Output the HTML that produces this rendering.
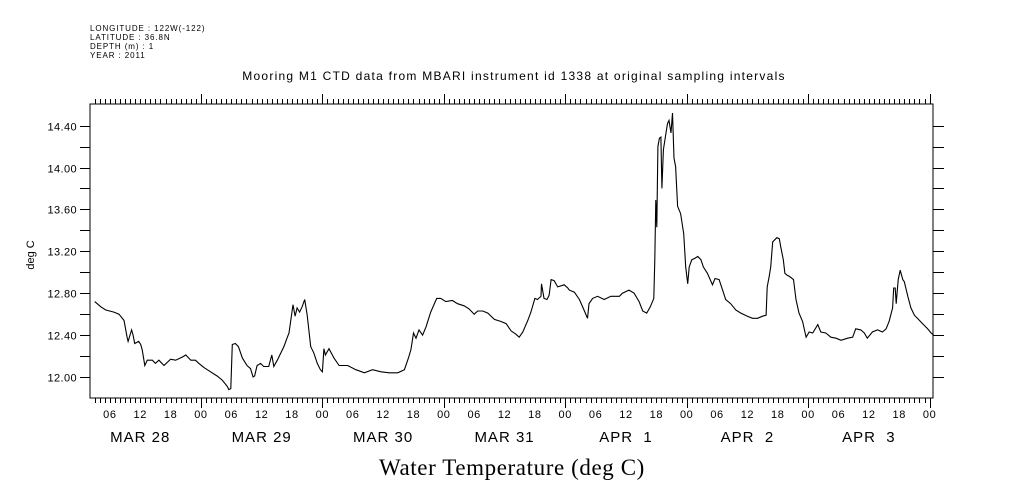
<!DOCTYPE html>
<html><head><meta charset="utf-8"><style>
body{margin:0;background:#fff;width:1009px;height:504px;overflow:hidden}
svg{display:block}
text{font-family:"Liberation Sans",sans-serif;fill:#000}
</style></head><body>
<svg id="chart" width="1009" height="504" viewBox="0 0 1009 504">
<g font-size="8" letter-spacing="0.9">
<text x="90" y="31">LONGITUDE : 122W(-122)</text>
<text x="90" y="40">LATITUDE : 36.8N</text>
<text x="90" y="49">DEPTH (m) : 1</text>
<text x="90" y="58">YEAR : 2011</text>
</g>
<text x="514" y="80" font-size="12" letter-spacing="1.25" text-anchor="middle">Mooring M1 CTD data from MBARI instrument id 1338 at original sampling intervals</text>
<text transform="translate(34,255) rotate(-90)" font-size="11" text-anchor="middle">deg C</text>
<text x="512" y="475" font-size="23" text-anchor="middle" style="font-family:'Liberation Serif',serif" letter-spacing="0.6">Water Temperature (deg C)</text>
<rect x="90" y="104" width="843" height="294" fill="none" stroke="#000" stroke-width="1"/>
<g id="axes"></g>
<path id="series" fill="none" stroke="#000" stroke-width="1.1"/>
</svg>
<script>
const hours = [3.0,3.5,4.2,5.2,6.8,7.8,8.8,9.4,9.6,10.3,10.6,10.9,11.7,12.1,12.4,12.9,13.4,14.4,15.0,15.7,16.7,18.0,19.0,20.3,21.0,21.6,22.0,22.9,23.6,24.6,25.9,27.2,28.2,29.2,29.5,29.9,30.2,30.8,31.4,32.2,33.1,33.8,34.3,34.6,35.1,35.8,36.4,37.4,38.0,38.4,39.1,40.4,41.0,41.4,42.2,42.6,43.0,43.5,44.0,44.5,45.0,45.7,46.3,47.0,47.6,48.0,48.3,48.6,49.3,50.3,51.3,53.0,54.6,56.3,57.9,59.6,61.2,62.9,64.2,65.0,65.5,66.0,66.5,67.1,67.8,68.5,69.4,70.6,71.4,72.4,73.7,74.7,76.0,77.0,78.0,78.7,79.7,80.7,82.0,83.3,84.3,85.3,86.2,86.9,87.6,88.6,89.2,90.0,90.5,91.2,91.3,91.8,92.4,92.8,93.2,93.8,94.5,95.8,96.5,96.8,97.8,98.8,99.7,100.4,100.7,101.4,102.4,103.7,105.0,106.7,107.3,108.6,109.6,110.6,111.3,112.1,112.8,113.5,113.7,113.9,114.1,114.3,114.6,114.9,115.1,115.4,115.9,116.2,116.5,116.9,117.2,117.5,117.8,118.2,118.8,119.4,119.8,120.2,120.5,121.0,121.5,122.2,122.8,123.3,124.1,125.1,125.6,126.4,127.1,127.7,128.7,129.7,130.7,132.0,133.0,134.0,135.0,135.7,135.9,136.3,136.6,137.0,137.8,138.3,138.6,139.1,139.4,139.9,140.3,141.1,141.6,142.2,142.9,143.6,144.2,144.9,145.9,146.5,147.5,148.5,149.5,150.5,151.8,152.8,153.4,154.4,155.1,155.7,156.7,157.7,158.7,159.4,160.0,160.7,160.9,161.2,161.4,161.8,162.2,162.7,163.0,163.7,164.3,165.0,165.6,166.6,167.6,168.3,168.8];
const temps = [12.72,12.70,12.67,12.64,12.62,12.60,12.54,12.38,12.34,12.45,12.40,12.32,12.34,12.31,12.26,12.11,12.16,12.16,12.13,12.16,12.11,12.17,12.16,12.19,12.21,12.18,12.16,12.16,12.13,12.09,12.05,12.01,11.97,11.91,11.88,11.89,12.31,12.32,12.29,12.18,12.11,12.08,12.00,12.01,12.11,12.13,12.10,12.10,12.21,12.10,12.16,12.29,12.37,12.42,12.69,12.58,12.66,12.62,12.67,12.74,12.59,12.29,12.23,12.13,12.07,12.05,12.27,12.21,12.27,12.18,12.11,12.11,12.07,12.04,12.07,12.05,12.04,12.04,12.07,12.18,12.26,12.42,12.37,12.45,12.40,12.48,12.62,12.75,12.75,12.72,12.73,12.70,12.68,12.65,12.60,12.63,12.63,12.61,12.55,12.53,12.51,12.44,12.41,12.38,12.43,12.54,12.62,12.75,12.74,12.77,12.89,12.75,12.74,12.78,12.93,12.92,12.86,12.88,12.85,12.83,12.81,12.74,12.64,12.56,12.70,12.75,12.77,12.74,12.77,12.77,12.80,12.83,12.80,12.72,12.63,12.61,12.67,12.75,13.12,13.69,13.43,14.20,14.28,14.29,13.80,14.17,14.33,14.42,14.45,14.33,14.52,14.09,14.01,13.63,13.56,13.37,13.05,12.89,13.05,13.12,13.13,13.15,13.12,13.05,12.99,12.88,12.94,12.93,12.83,12.74,12.70,12.64,12.61,12.58,12.56,12.56,12.58,12.59,12.86,12.96,13.05,13.29,13.33,13.32,13.24,13.12,12.99,12.97,12.96,12.93,12.74,12.61,12.53,12.38,12.43,12.42,12.50,12.43,12.42,12.38,12.37,12.35,12.37,12.38,12.46,12.45,12.42,12.37,12.43,12.45,12.43,12.46,12.53,12.66,12.85,12.85,12.70,12.93,13.02,12.93,12.91,12.77,12.66,12.59,12.56,12.51,12.46,12.42,12.40];
const yTickValues = [12.0,12.2,12.4,12.6,12.8,13.0,13.2,13.4,13.6,13.8,14.0,14.2,14.4];
const yTickLabels = ["12.00","","12.40","","12.80","","13.20","","13.60","","14.00","","14.40"];
const dayLabels = ["MAR 28","MAR 29","MAR 30","MAR 31","APR  1","APR  2","APR  3"];
const hourLabels = ["00","06","12","18"];

const L=90,R=933,T=104,B=398;
const H0=(L-78.6)/5.06;
const H1=(R-78.6)/5.06;
const x = h => 79.5 + h*5.06;
const y = v => 377 - (v-12)*104.75;
const NS="http://www.w3.org/2000/svg";
const ax=document.getElementById('axes');
function mk(tag,attrs){const e=document.createElementNS(NS,tag);for(const k in attrs)e.setAttribute(k,attrs[k]);ax.appendChild(e);return e;}

let d="";
hours.forEach((h,i)=>{d+=(i?"L":"M")+x(h).toFixed(1)+" "+y(temps[i]).toFixed(1);});
document.getElementById('series').setAttribute('d',d);

yTickValues.forEach((v,i)=>{
  const yy=Math.round(y(v))+0.5;
  const t1=mk('line',{x1:80,x2:L,y1:yy,y2:yy,stroke:'#000'});
  
  
  const t2=mk('line',{x1:R,x2:944,y1:yy,y2:yy,stroke:'#000'});
  
  
  if(yTickLabels[i]){
    const tx=mk('text',{x:77,y:yy+4,'font-size':11,'letter-spacing':0.4,'text-anchor':'end'});
    tx.textContent=yTickLabels[i];
    
    
  }
});
for(let h=Math.ceil(H0);h<=H1;h++){
  const xx=Math.round(x(h))+0.5;
  const major=h%24===0;
  const tb=mk('line',{x1:xx,x2:xx,y1:B,y2:B+(major?10:5),stroke:'#000'});
  
  
  const tt=mk('line',{x1:xx,x2:xx,y1:T,y2:T-(major?10:5),stroke:'#000'});
  
  
  if(h%6===0){
    const lab=mk('text',{x:x(h),y:418,'font-size':11,'letter-spacing':0.6,'text-anchor':'middle'});
    lab.textContent=hourLabels[(h%24)/6];
    
    
  }
}
dayLabels.forEach((s,i)=>{
  const t=mk('text',{x:x(i*24+12),y:442,'font-size':15,'letter-spacing':1,'text-anchor':'middle'});
  t.setAttribute('xml:space','preserve');
  t.style.whiteSpace='pre';
  t.textContent=s;
  
  
});
</script>
</body></html>
